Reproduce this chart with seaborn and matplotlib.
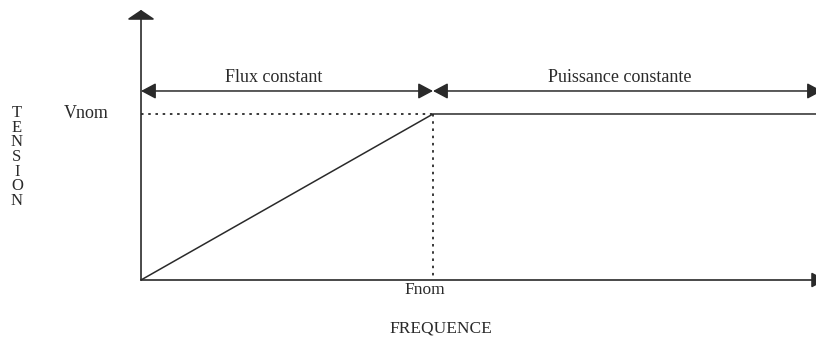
import matplotlib
matplotlib.use("Agg")
import matplotlib.pyplot as plt
import seaborn as sns
import pandas as pd

# Data (normalised: Fnom = 1, Vnom = 1)
freq = [0.0, 1.0, 2.35]
tension = [0.0, 1.0, 1.0]
fnom = 1.0
vnom = 1.0
zone_level = 1.1386
zone_labels = ["Flux constant", "Puissance constante"]
zone_bounds = [0.0, 1.0, 2.332]
axis_labels = ["FREQUENCE", "TENSION"]
tick_labels = ["Fnom", "Vnom"]

sns.set_theme(style="white")
plt.rcParams["font.family"] = ["Liberation Serif", "DejaVu Serif"]

fig = plt.figure(figsize=(8.16, 3.38), dpi=100)
ax = fig.add_axes([0, 0, 1, 1])
ax.set_axis_off()
ax.set_xlim(-0.4829, 2.3116)
ax.set_ylim(-0.3494, 1.6867)

col = "#2a2a2a"
df = pd.DataFrame({"f": freq, "v": tension})
sns.lineplot(data=df, x="f", y="v", ax=ax, color=col, lw=1.1, sort=False)

# dotted guides
ax.plot([0, fnom], [vnom, vnom], color=col, lw=1.3, ls=(0, (1.4, 2.6)))
ax.plot([fnom, fnom], [vnom, 0], color=col, lw=1.3, ls=(0, (1.4, 2.6)))

# axes with arrows
ax.annotate("", xy=(2.345, 0), xytext=(0, 0), xycoords="data", annotation_clip=False,
            arrowprops=dict(arrowstyle="-|>,head_length=0.43,head_width=0.23",
                            color=col, lw=1.2, shrinkA=0, shrinkB=0, mutation_scale=20))
ax.annotate("", xy=(0, 1.627), xytext=(0, 0), xycoords="data", annotation_clip=False,
            arrowprops=dict(arrowstyle="-|>,head_length=0.29,head_width=0.43",
                            color=col, lw=1.2, shrinkA=0, shrinkB=0, mutation_scale=20))

# zone double arrows and labels
for i, lab in enumerate(zone_labels):
    a, b = zone_bounds[i], zone_bounds[i + 1]
    ax.annotate("", xy=(b, zone_level), xytext=(a, zone_level), xycoords="data",
                annotation_clip=False,
                arrowprops=dict(arrowstyle="<|-|>,head_length=0.45,head_width=0.24",
                                color=col, lw=1.1, shrinkA=0, shrinkB=0, mutation_scale=20))
mid_labels = [0.455, 1.640]
for lab, xm in zip(zone_labels, mid_labels):
    ax.text(xm, 1.217, lab, ha="center", va="center", fontsize=13, color=col)

ax.text(-0.188, vnom, tick_labels[1], ha="center", va="center", fontsize=13, color=col)
ax.text(0.973, -0.060, tick_labels[0], ha="center", va="center", fontsize=12.5, color=col)
ax.text(1.027, -0.295, axis_labels[0], ha="center", va="center", fontsize=12.5, color=col)
ax.text(-0.425, 0.741, "\n".join(axis_labels[1]), ha="center", va="center",
        fontsize=12, color=col, linespacing=0.88)

fig.savefig("out.png", dpi=100)
